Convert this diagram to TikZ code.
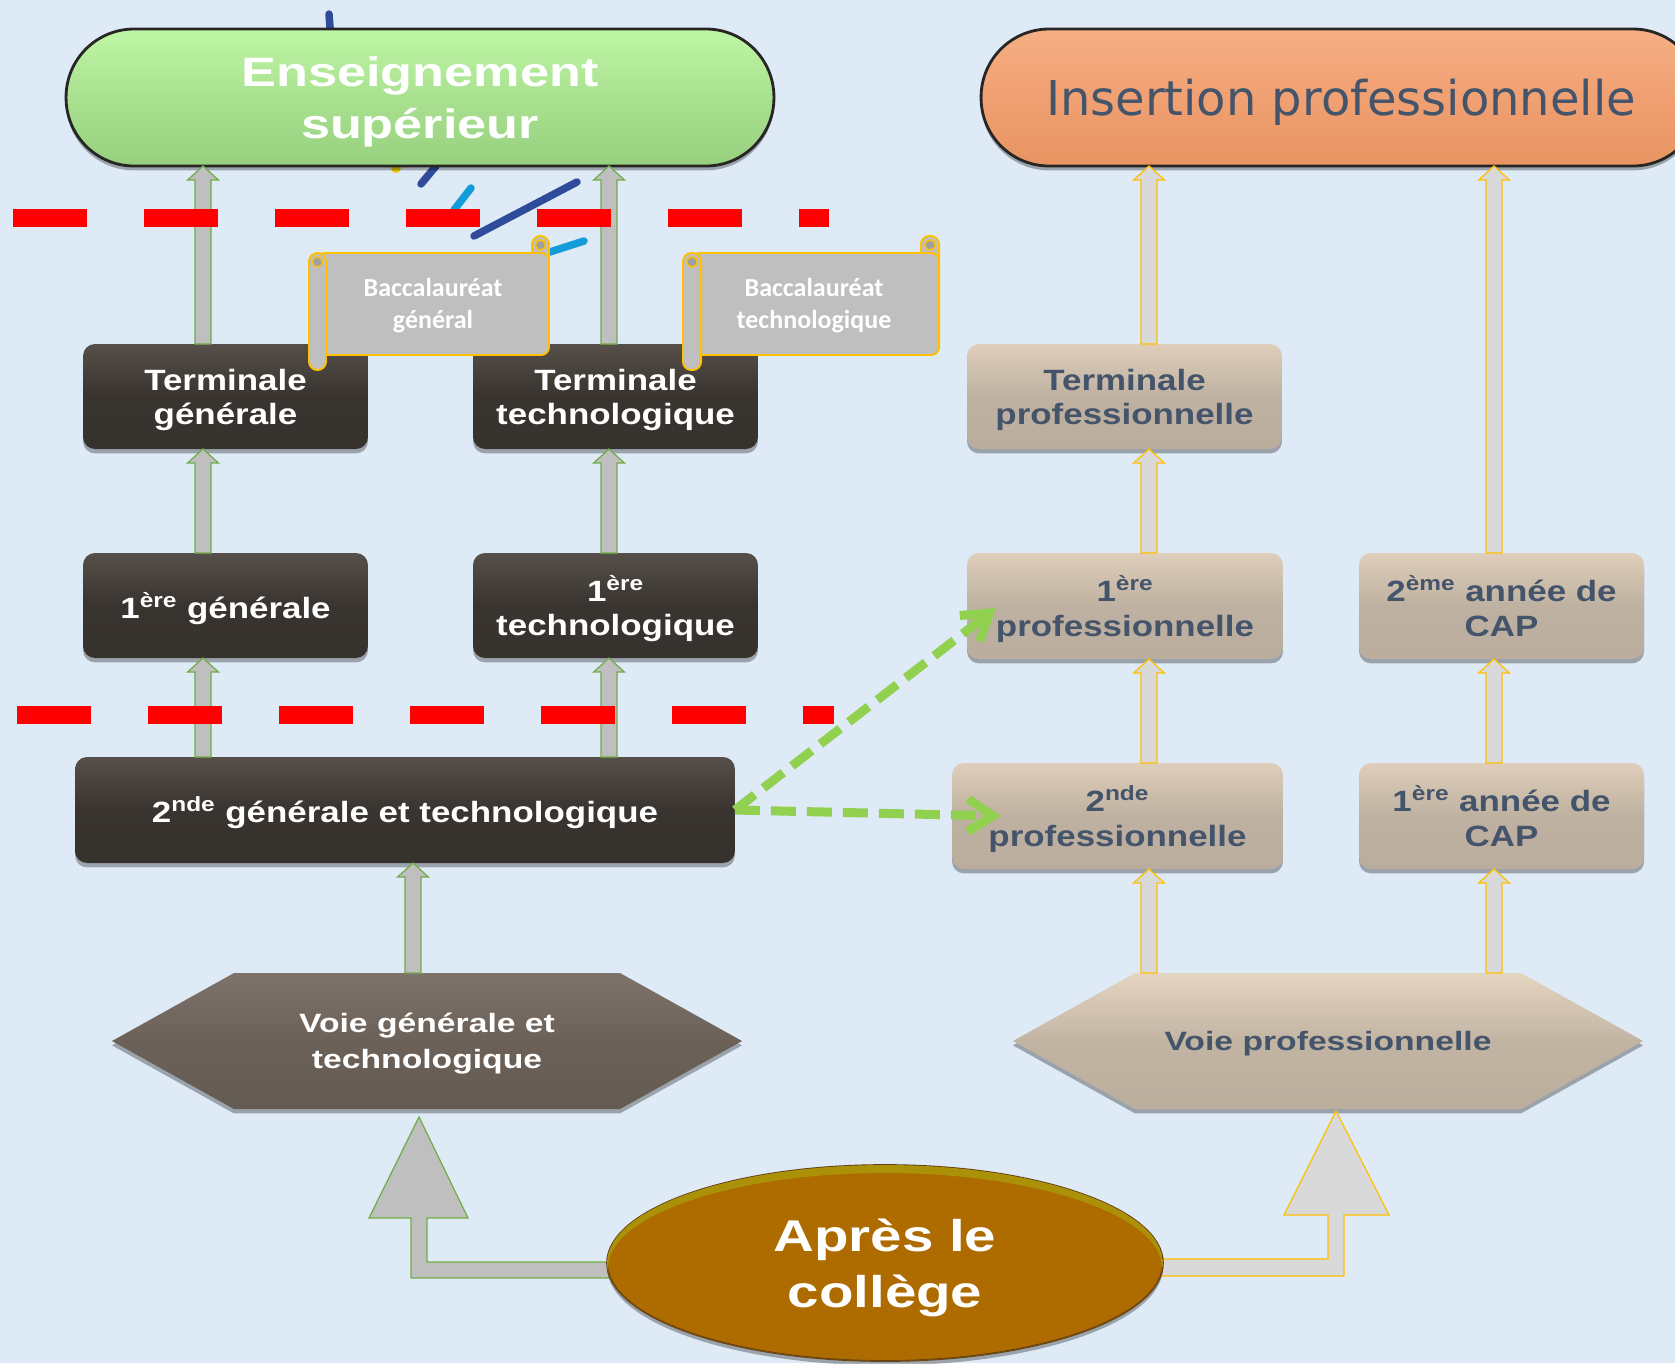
\documentclass[tikz,border=0pt]{standalone}
\usepackage{fontspec}
\setmainfont{Liberation Sans}
\newfontfamily\boxfont[FakeStretch=1.19]{Liberation Sans}
\newfontfamily\widefont[FakeStretch=1.27]{Liberation Sans}
\newfontfamily\insfont{DejaVu Sans}
\newfontfamily\bacfont{Carlito}
\usepackage{tikz}
\usetikzlibrary{arrows.meta,calc,shapes.geometric,shadows}
\definecolor{bgblue}{RGB}{222,234,246}
\definecolor{darktop}{RGB}{86,79,73}
\definecolor{darkmid}{RGB}{57,52,48}
\definecolor{darkbot}{RGB}{54,50,46}
\definecolor{tantop}{RGB}{222,206,186}
\definecolor{tanmid}{RGB}{191,177,161}
\definecolor{tanbot}{RGB}{187,173,157}
\definecolor{slate}{RGB}{68,84,106}
\definecolor{estop}{RGB}{190,246,166}
\definecolor{esmid}{RGB}{170,225,145}
\definecolor{esbot}{RGB}{150,208,126}
\definecolor{iptop}{RGB}{246,174,132}
\definecolor{ipmid}{RGB}{240,160,114}
\definecolor{ipbot}{RGB}{232,148,98}
\definecolor{pillline}{RGB}{40,38,36}
\definecolor{hexdtop}{RGB}{125,115,106}
\definecolor{hexdmid}{RGB}{107,97,88}
\definecolor{hexdbot}{RGB}{100,91,83}
\definecolor{hexltop}{RGB}{228,213,193}
\definecolor{hexlmid}{RGB}{194,180,163}
\definecolor{hexlbot}{RGB}{188,174,157}
\definecolor{apresfill}{RGB}{174,107,0}
\definecolor{apresrim}{RGB}{168,158,10}
\definecolor{apresline}{RGB}{100,62,20}
\definecolor{arrgray}{RGB}{191,191,191}
\definecolor{arrlight}{RGB}{217,217,217}
\definecolor{arrgreen}{RGB}{112,173,71}
\definecolor{arryellow}{RGB}{255,192,0}
\definecolor{sepred}{RGB}{255,0,0}
\definecolor{jumpgreen}{RGB}{146,208,80}
\definecolor{scrollgray}{RGB}{191,191,191}
\definecolor{curlgray}{RGB}{160,160,160}
\definecolor{navyink}{RGB}{47,75,154}
\definecolor{cyanink}{RGB}{18,156,216}
\definecolor{yellowink}{RGB}{232,200,0}

% flèche pleine verticale entre deux points
\newcommand{\blockarr}[3]{%
  \draw[#1] let \p1=(#2), \p2=(#3) in
    (\x1-4.6pt,\y1) -- (\x1-4.6pt,\y2-8pt) -- (\x1-8.8pt,\y2-8pt) -- (\x1,\y2)
    -- (\x1+8.8pt,\y2-8pt) -- (\x1+4.6pt,\y2-8pt) -- (\x1+4.6pt,\y1) -- cycle;}

\tikzset{
  % ombre commune
  softshadow/.style={drop shadow={shadow xshift=0pt, shadow yshift=-2.5pt, opacity=0.3, fill=black}},
  % boîte sombre (voie générale)
  darkbox/.style={
    rounded corners=0.24cm, inner sep=0pt, outer sep=0pt,
    top color=darktop, bottom color=darkbot, middle color=darkmid,
    text=white, align=center, text depth=-2.9pt,
    font=\boxfont\bfseries\fontsize{16.7}{19.5}\selectfont,
    softshadow
  },
  % boîte claire (voie professionnelle)
  tanbox/.style={darkbox, top color=tantop, bottom color=tanbot, middle color=tanmid, text=slate},
  % grandes pilules du haut
  pill/.style={
    rounded corners=1.36cm, minimum height=2.74cm, inner sep=0pt, outer sep=0pt,
    draw=pillline, line width=1.6pt, align=center, softshadow
  },
  higher/.style={pill, minimum width=14.16cm, top color=estop, bottom color=esbot, middle color=esmid,
    text=white, text depth=-1.1pt, font=\widefont\bfseries\fontsize{23.4}{30}\selectfont},
  insertion/.style={pill, minimum width=14.4cm, top color=iptop, bottom color=ipbot, middle color=ipmid,
    text=slate, text depth=0pt, font=\insfont\fontsize{27.3}{32}\selectfont},
  % hexagones des voies
  voie/.style={minimum width=12.6cm, minimum height=2.72cm, inner sep=0pt, outer sep=0pt, align=center,
    text depth=-4.1pt, font=\widefont\bfseries\fontsize{15.1}{20.5}\selectfont},
  hexdark/.style={top color=hexdtop, bottom color=hexdbot, middle color=hexdmid, softshadow},
  hexlight/.style={top color=hexltop, bottom color=hexlbot, middle color=hexlmid, softshadow},
  % après le collège
  apres/.style={ellipse, minimum width=11.12cm, minimum height=3.92cm, inner sep=0pt,
    fill=apresfill, draw=apresline, line width=1pt, text=white, align=center, text depth=-3.7pt,
    font=\widefont\bfseries\fontsize{25.3}{32.2}\selectfont, softshadow},
  % flèches pleines
  genarr/.style={fill=arrgray, draw=arrgreen, line width=0.7pt},
  proarr/.style={fill=arrlight, draw=arryellow, line width=0.7pt},
  % pointillés rouges
  sep/.style={draw=sepred, line width=0.36cm, dash pattern=on 1.49cm off 1.13cm},
  % passerelles
  jump/.style={draw=jumpgreen, line width=0.18cm, dash pattern=on 0.5cm off 0.22cm,
    -{Straight Barb[length=0.5cm,width=0.65cm]}},
  % parchemins du bac
  scrollpart/.style={fill=scrollgray, draw=arryellow, line width=1.1pt},
  scrollcurl/.style={fill=curlgray, draw=arryellow, line width=0.8pt},
  bactext/.style={text=white, align=center, font=\bacfont\bfseries\fontsize{14.8}{18.2}\selectfont},
  bacscroll/.pic={
    \filldraw[scrollpart, rounded corners=4.8pt] (103,-68) rectangle (120,-38);
    \filldraw[scrollpart, rounded corners=4.5pt] (-112,-51) rectangle (120,51);
    \filldraw[scrollpart, rounded corners=4.8pt] (-120,-51) rectangle (-103,66);
    \filldraw[scrollcurl] (-111.5,-42) circle [radius=5];
    \filldraw[scrollcurl] (111.5,-59) circle [radius=5];
  },
  % traits décoratifs
  navystroke/.style={draw=navyink, line width=0.15cm, line cap=round},
  cyanstroke/.style={draw=cyanink, line width=0.15cm, line cap=round},
}

\begin{document}
\begin{tikzpicture}[x=0.02cm, y=-0.02cm]
    \useasboundingbox (0,0) rectangle (1675,1363);
    \fill[bgblue] (0,0) rectangle (1675,1363);

    % traits décoratifs
    \draw[navystroke] (329,14) -- (331,40);
    \fill[yellowink] (396,168) circle [radius=5];
    \draw[navystroke] (436,166) -- (421,184);
    \draw[cyanstroke] (471,188) -- (454,210);
    \draw[navystroke] (577,182) -- (474,236);
    \draw[cyanstroke] (584,241) -- (528,259);

    % Débouchés
    \node[higher] (es) at (420,97.5) {Enseignement\\supérieur};
    \node[insertion] (ip) at (1341,97.5) {Insertion professionnelle};

    % Voies
    \coordinate (vgc) at (427,1041);
    \coordinate (vpc) at (1328,1041);
    \path[hexdark] (vgc) ++(-315,0) -- ++(122,-68) -- ++(386,0) -- ++(122,68) -- ++(-122,68) -- ++(-386,0) -- cycle;
    \path[hexlight] (vpc) ++(-315,0) -- ++(122,-68) -- ++(386,0) -- ++(122,68) -- ++(-122,68) -- ++(-386,0) -- cycle;
    \node[voie, text=white] (vg) at (vgc) {Voie générale et\\technologique};
    \node[voie, text=slate] (vp) at (vpc) {Voie professionnelle};

    % Voie générale et technologique
    \node[darkbox, minimum width=5.7cm, minimum height=2.1cm] (tg) at (225.5,396.5) {Terminale\\générale};
    \node[darkbox, minimum width=5.7cm, minimum height=2.1cm] (tt) at (615.5,396.5) {Terminale\\technologique};
    \node[darkbox, minimum width=5.7cm, minimum height=2.1cm] (pg) at (225.5,605.5) {1\textsuperscript{ère} générale};
    \node[darkbox, minimum width=5.7cm, minimum height=2.1cm] (pt) at (615.5,605.5) {1\textsuperscript{ère}\\technologique};
    \node[darkbox, minimum width=13.2cm, minimum height=2.12cm] (sgt) at (405,810) {2\textsuperscript{nde} générale et technologique};

    % Voie professionnelle
    \node[tanbox, minimum width=6.3cm, minimum height=2.1cm] (tp) at (1124.5,396.5) {Terminale\\professionnelle};
    \node[tanbox, minimum width=6.32cm, minimum height=2.12cm] (pp) at (1125,606) {1\textsuperscript{ère}\\professionnelle};
    \node[tanbox, minimum width=5.7cm, minimum height=2.12cm] (c2) at (1501.5,606) {2\textsuperscript{ème} année de\\CAP};
    \node[tanbox, minimum width=6.62cm, minimum height=2.12cm] (sp) at (1117.5,816) {2\textsuperscript{nde}\\professionnelle};
    \node[tanbox, minimum width=5.7cm, minimum height=2.12cm] (c1) at (1501.5,816) {1\textsuperscript{ère} année de\\CAP};

    % colonnes des flèches
    \coordinate (colA) at (203,0);
    \coordinate (colB) at (609,0);
    \coordinate (colC) at (413,0);
    \coordinate (colD) at (1149,0);
    \coordinate (colE) at (1494,0);

    \blockarr{genarr}{colA |- tg.north}{colA |- es.south}
    \blockarr{genarr}{colB |- tt.north}{colB |- es.south}
    \blockarr{genarr}{colA |- pg.north}{colA |- tg.south}
    \blockarr{genarr}{colB |- pt.north}{colB |- tt.south}
    \blockarr{genarr}{colA |- sgt.north}{colA |- pg.south}
    \blockarr{genarr}{colB |- sgt.north}{colB |- pt.south}
    \blockarr{genarr}{colC |- vg.north}{colC |- sgt.south}
    \blockarr{proarr}{colD |- tp.north}{colD |- ip.south}
    \blockarr{proarr}{colE |- c2.north}{colE |- ip.south}
    \blockarr{proarr}{colD |- pp.north}{colD |- tp.south}
    \blockarr{proarr}{colD |- sp.north}{colD |- pp.south}
    \blockarr{proarr}{colE |- c1.north}{colE |- c2.south}
    \blockarr{proarr}{colD |- vp.north}{colD |- sp.south}
    \blockarr{proarr}{colE |- vp.north}{colE |- c1.south}

    % paliers
    \draw[sep] (13,218) -- (829,218);
    \draw[sep] (17,715) -- (834,715);

    % Baccalauréats
    \pic at (429,304) {bacscroll};
    \pic[xscale=1.067] at (811,304) {bacscroll};
    \node[bactext] (bg) at (433,306) {Baccalauréat\\général};
    \node[bactext] (bt) at (814,306) {Baccalauréat\\technologique};

    % passerelles
    \draw[jump] (sgt.east) -- ($(pp.west)+(29,2)$);
    \draw[jump] (sgt.east) -- ($(sp.west)+(49,0)$);

    % Après le collège
    \coordinate (acc) at (885,1263);
    \coordinate (lt) at ($(vg.south)+(-8,8)$);
    \coordinate (rt) at ($(vp.south)+(8,2)$);
    \draw[genarr] (acc) ++(-225,-1) -- ++(-233,0) -- ++(0,-44) -- ++(41,0) -- (lt)
        -- ++(-50,101) -- ++(42,0) -- ++(0,60) -- ++(249,0) -- cycle;
    \draw[proarr] (acc) ++(225,-4) -- ++(218,0) -- ++(0,-44) -- ++(-44,0) -- (rt)
        -- ++(53,104) -- ++(-45,0) -- ++(0,61) -- ++(-234,0) -- cycle;
    \node[apres] (ac) at (acc) {Après le\\collège};
    \begin{scope}
        \clip (ac.center) ellipse [x radius=278, y radius=98];
        \fill[apresrim!75!apresfill, even odd rule] (ac.center) ellipse [x radius=278, y radius=98]
            ($(ac.center)+(0,5)$) ellipse [x radius=277, y radius=95];
    \end{scope}
\end{tikzpicture}
\end{document}
